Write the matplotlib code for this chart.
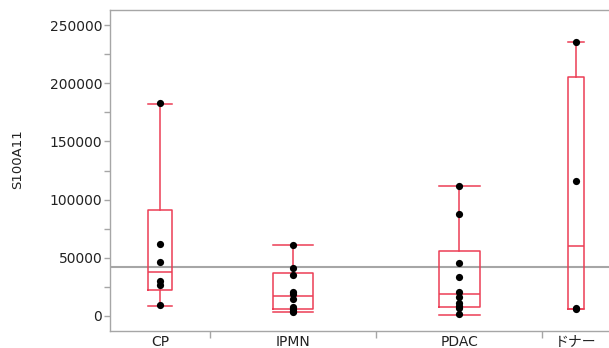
import numpy as np
import matplotlib.pyplot as plt
from matplotlib.ticker import MultipleLocator, FixedLocator, NullFormatter, FixedFormatter

# data
groups = ['CP', 'IPMN', 'PDAC', 'ドナー']
counts = [6, 10, 10, 4]

points = {
    'CP': [9400, 27000, 29800, 46500, 62200, 183000],
    'IPMN': [3700, 4300, 6200, 8000, 14500, 19300, 20500, 35300, 41000, 61000],
    'PDAC': [1500, 7000, 8300, 11000, 16300, 20900, 33800, 45100, 87900, 111300],
    'ドナー': [6000, 6600, 116400, 235700],
}

# box statistics: lower whisker, Q1, median, Q3, upper whisker
whislo = [8800, 3700, 1100, 5700]
q1 = [22500, 5760, 8000, 5700]
med = [37700, 16900, 18600, 60200]
q3 = [91000, 36700, 55800, 205500]
whishi = [182100, 61000, 111300, 235700]

grand_mean = 42100

# plot
plt.rcParams['font.family'] = ['DejaVu Sans', 'Noto Sans CJK JP']

fig = plt.figure(figsize=(6.09, 3.48), dpi=100)
ax = fig.add_axes([110/609, 1 - 331/348, 499/609, 321/348])

edges = np.concatenate([[0], np.cumsum(counts)])
centers = (edges[:-1] + edges[1:]) / 2

box_color = '#EC3D55'
gray = '#A6A6A6'

stats = []
for i, g in enumerate(groups):
    stats.append(dict(whislo=whislo[i], q1=q1[i], med=med[i], q3=q3[i],
                      whishi=whishi[i], label=g))

widths = [0.245 * c for c in counts]
ax.bxp(stats, positions=centers, widths=widths, showfliers=False,
       capwidths=widths,
       boxprops=dict(color=box_color, linewidth=1.1),
       whiskerprops=dict(color=box_color, linewidth=1.1),
       capprops=dict(color=box_color, linewidth=1.1),
       medianprops=dict(color=box_color, linewidth=1.1))

ax.axhline(grand_mean, color=gray, linewidth=1.5, zorder=1)

for i, g in enumerate(groups):
    ax.scatter(np.full(len(points[g]), centers[i]), points[g], s=27,
               color='black', zorder=5, linewidths=0)

ax.set_xlim(edges[0], edges[-1])
ax.set_ylim(-12900, 262900)

ax.yaxis.set_major_locator(MultipleLocator(50000))
ax.yaxis.set_minor_locator(MultipleLocator(25000))
ax.tick_params(axis='y', which='both', length=4, width=1, color=gray,
               labelsize=10, pad=1.5, labelcolor='#222222')

ax.xaxis.set_major_locator(FixedLocator(edges[1:-1]))
ax.xaxis.set_major_formatter(NullFormatter())
ax.xaxis.set_minor_locator(FixedLocator(centers))
ax.xaxis.set_minor_formatter(FixedFormatter(groups))
ax.tick_params(axis='x', which='major', length=5, width=1, color=gray)
ax.tick_params(axis='x', which='minor', length=0, labelsize=10, pad=3,
               labelcolor='#222222')

ax.set_ylabel('S100A11', fontsize=9.5, color='#222222')
ax.yaxis.set_label_coords(-0.172, 0.536)

for side in ['left', 'bottom', 'top']:
    ax.spines[side].set_color(gray)
    ax.spines[side].set_linewidth(1)
ax.spines['right'].set_visible(False)

fig.savefig('out.png', dpi=100)
